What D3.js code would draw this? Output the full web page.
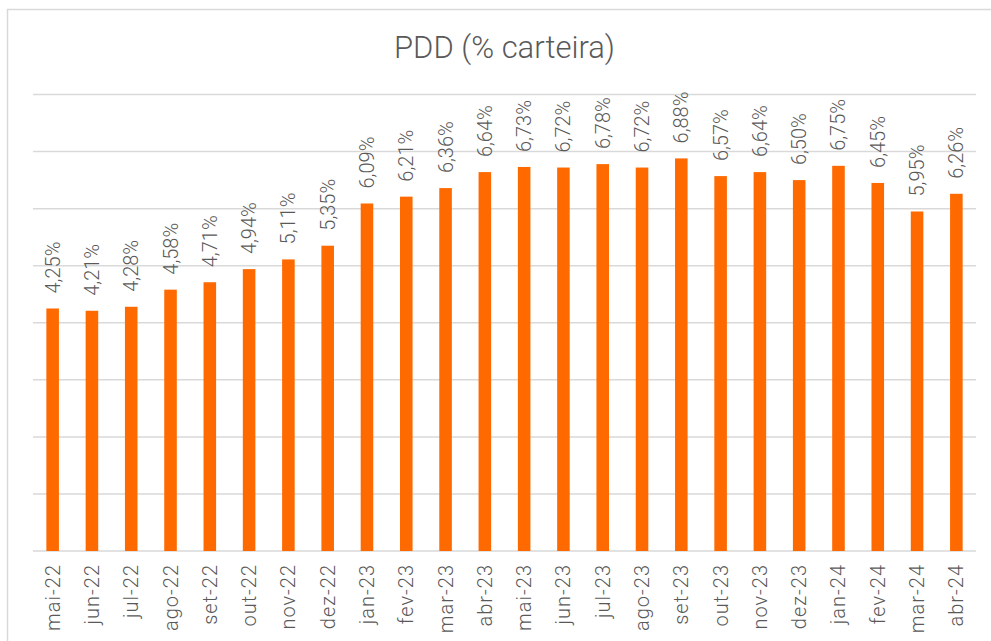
<!DOCTYPE html>
<html>
  <head>
    <meta charset="utf-8">
    <script src="https://d3js.org/d3.v7.min.js"></script>
    <title>PDD (% carteira)</title>
    <style>
      body { margin: 0; background: #fff; }
      text { font-family: Roboto, "Liberation Sans", sans-serif; font-weight: 300; fill: #595959; }
    </style>
  </head>
  <body>

    <svg></svg>

    <script type="text/javascript">

      var months = ["mai-22","jun-22","jul-22","ago-22","set-22","out-22","nov-22","dez-22",
                    "jan-23","fev-23","mar-23","abr-23","mai-23","jun-23","jul-23","ago-23",
                    "set-23","out-23","nov-23","dez-23","jan-24","fev-24","mar-24","abr-24"];
      var pdd = [4.25,4.21,4.28,4.58,4.71,4.94,5.11,5.35,
                 6.09,6.21,6.36,6.64,6.73,6.72,6.78,6.72,
                 6.88,6.57,6.64,6.50,6.75,6.45,5.95,6.26];
      var gridTicks = [0,1,2,3,4,5,6,7,8];

      var width = 991, height = 641;
      var plotLeft = 33, plotRight = 976, plotTop = 94.5, plotBottom = 551;

      var svg = d3.select("svg")
                  .attr("width", width)
                  .attr("height", height);

      // frame (only left and top edges show in the crop)
      svg.append("rect")
        .attr("x", 7.5).attr("y", 9.5)
        .attr("width", 1000).attr("height", 700)
        .attr("fill", "none")
        .attr("stroke", "#d9d9d9")
        .attr("stroke-width", 1.5);

      var x = d3.scaleBand().domain(months).range([plotLeft, plotRight]).paddingInner(0.68).paddingOuter(0.34);
      var y = d3.scaleLinear().domain([0, 8]).range([plotBottom, plotTop]);

      svg.selectAll("line.grid")
        .data(gridTicks)
        .join("line")
        .attr("class", "grid")
        .attr("x1", plotLeft).attr("x2", plotRight)
        .attr("y1", d => y(d)).attr("y2", d => y(d))
        .attr("stroke", "#d9d9d9")
        .attr("stroke-width", 1.5);

      svg.selectAll("rect.bar")
        .data(pdd)
        .join("rect")
        .attr("class", "bar")
        .attr("x", (d, i) => x(months[i]))
        .attr("width", x.bandwidth())
        .attr("y", d => y(d))
        .attr("height", d => y(0) - y(d))
        .attr("fill", "#ff6a00");

      // value labels
      svg.selectAll("text.val")
        .data(pdd)
        .join("text")
        .attr("class", "val")
        .attr("transform", (d, i) => "translate(" + (x(months[i]) + x.bandwidth()/2 + 7) + "," + (y(d) - 15) + ") rotate(-90)")
        .style("font-size", "20px")
        .text(d => d.toFixed(2).replace(".", ",") + "%");

      // month labels
      svg.selectAll("text.cat")
        .data(months)
        .join("text")
        .attr("class", "cat")
        .attr("text-anchor", "end")
        .attr("transform", d => "translate(" + (x(d) + x.bandwidth()/2 + 7) + "," + 564 + ") rotate(-90)")
        .style("font-size", "20px")
        .style("letter-spacing", "1px")
        .text(d => d);

      svg.append("text")
        .attr("x", (plotLeft + plotRight) / 2)
        .attr("y", 58)
        .attr("text-anchor", "middle")
        .style("font-size", "31px")
        .text("PDD (% carteira)");

    </script>
  </body>
</html>
